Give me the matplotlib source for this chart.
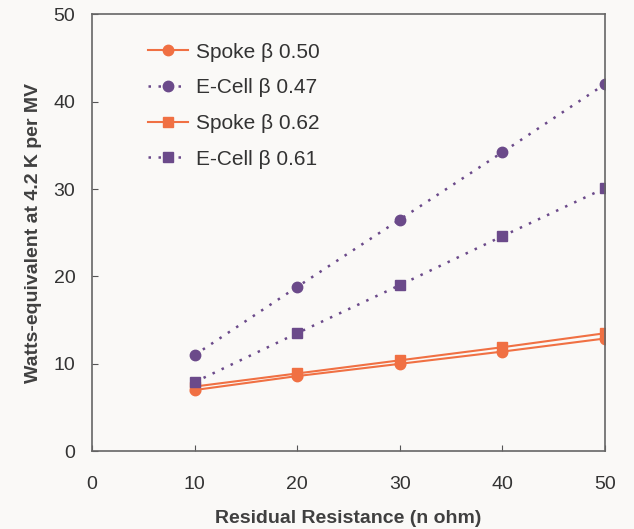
import matplotlib
matplotlib.use('Agg')
import matplotlib.pyplot as plt

plt.rcParams['font.family'] = ['Liberation Sans', 'DejaVu Sans']

resistance = [10, 20, 30, 40, 50]
spoke_050 = [7.0, 8.6, 10.0, 11.4, 12.9]
ecell_047 = [11.0, 18.8, 26.5, 34.2, 42.0]
spoke_062 = [7.4, 8.9, 10.4, 11.9, 13.5]
ecell_061 = [7.9, 13.5, 19.0, 24.6, 30.1]

orange = '#F07043'
purple = '#6B4A8A'
bg = '#FAF9F7'

fig = plt.figure(figsize=(6.34, 5.29), dpi=100, facecolor=bg)
ax = fig.add_axes([0.145, 0.147, 0.809, 0.826], facecolor=bg)

ax.plot(resistance, spoke_050, color=orange, lw=1.5, marker='o', ms=7.5, label='Spoke β 0.50')
ax.plot(resistance, ecell_047, color=purple, lw=1.8, ls=(0, (1, 3)), marker='o', ms=7.5, label='E-Cell β 0.47')
ax.plot(resistance, spoke_062, color=orange, lw=1.5, marker='s', ms=7, label='Spoke β 0.62')
ax.plot(resistance, ecell_061, color=purple, lw=1.8, ls=(0, (1, 3)), marker='s', ms=7, label='E-Cell β 0.61')

ax.set_xlim(0, 50)
ax.set_ylim(0, 50)
ax.set_xticks([0, 10, 20, 30, 40, 50])
ax.set_yticks([0, 10, 20, 30, 40, 50])
ax.tick_params(direction='in', length=4, colors='#555555', labelcolor='#333333', labelsize=14)
ax.tick_params(axis='x', pad=18)
ax.tick_params(axis='y', pad=12)
for s in ax.spines.values():
    s.set_color('#666666')
    s.set_linewidth(1.2)

ax.set_xlabel('Residual Resistance (n ohm)', fontsize=14, fontweight='bold', color='#404040', labelpad=12)
ax.set_ylabel('Watts-equivalent at 4.2 K per MV', fontsize=14, fontweight='bold', color='#404040', labelpad=8)

ax.legend(loc='upper left', bbox_to_anchor=(0.094, 0.954), borderaxespad=0, frameon=False, fontsize=15,
          labelcolor='#333333', handlelength=1.9, handletextpad=0.4, labelspacing=0.8)

fig.savefig('out.png', dpi=100, facecolor=bg)
